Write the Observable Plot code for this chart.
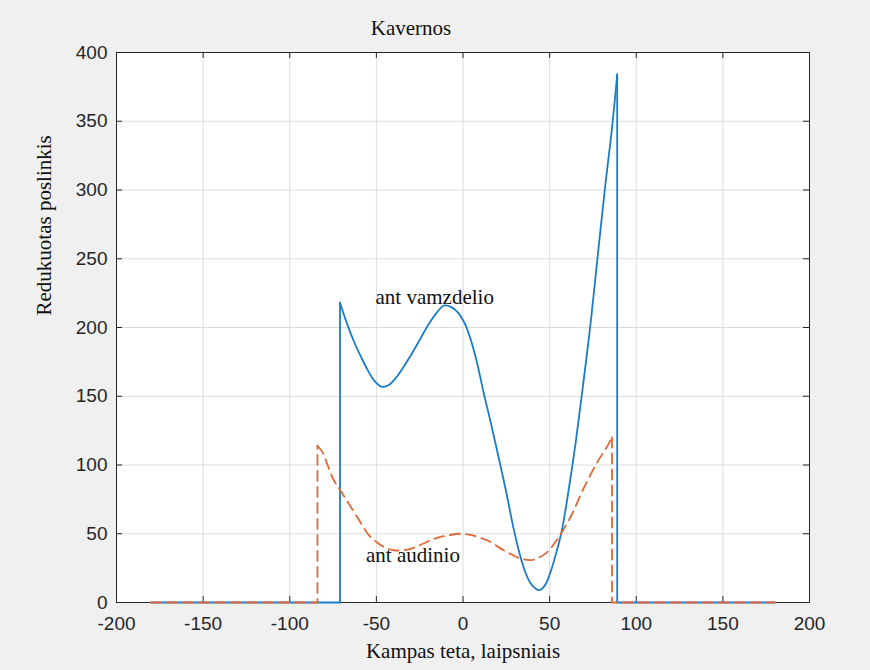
<!DOCTYPE html>
<html>
<head>
<meta charset="utf-8">
<script src="https://cdn.jsdelivr.net/npm/d3@7"></script>
<script src="https://cdn.jsdelivr.net/npm/@observablehq/plot@0.6"></script>
<style>
  html, body { margin: 0; padding: 0; background: #f0f0f0; }
  #chart { width: 870px; height: 670px; }
</style>
</head>
<body>
<div id="chart"></div>
<script>
// Angle range over which both displacements are computed (zero outside the contact zone)
const angleLimits = [-180, 180];

// Reduced displacement on the tube (solid line)
const tubeTheta = [-71, -67, -63, -59, -55, -51, -47, -43, -39, -35, -30, -25, -20, -15, -11, -7, -3, 1, 4, 8, 12, 16, 21, 25, 29, 33, 36, 39, 42, 44, 46, 48, 51, 54, 57, 61, 65, 69, 74, 78, 82, 86, 89];
const tubeValue = [218, 203, 190, 179, 169, 161, 157, 158, 163, 170, 180, 191, 202, 211, 216, 215, 211, 203, 193, 175, 152, 131, 103, 80, 55, 34, 22, 14, 10, 9, 10.5, 14, 24, 37, 52, 82, 116, 155, 207, 255, 302, 345, 384];

// Reduced displacement on the tissue (dashed line)
const tissueTheta = [-84, -81, -75, -70, -65, -60, -55, -50, -45, -40, -34, -28, -21, -15, -8, -1, 5, 10, 16, 22, 28, 33, 40, 47, 51, 55, 62, 70, 78, 83, 86];
const tissueValue = [114, 109, 90, 80, 70, 60, 50, 44, 40, 38, 38, 40, 44, 47, 49, 50, 49, 47, 44, 39, 35, 32, 31, 35, 40, 47, 62, 84, 103, 113, 120];

// Axis ticks
const xTicks = [-200, -150, -100, -50, 0, 50, 100, 150, 200];
const yTicks = [0, 50, 100, 150, 200, 250, 300, 350, 400];

// Texts
const titleText = "Kavernos";
const xLabel = "Kampas teta, laipsniais";
const yLabel = "Redukuotas poslinkis";
const tubeLabel = {text: "ant vamzdelio", theta: -50.5, value: 222};
const tissueLabel = {text: "ant audinio", theta: -56, value: 34};

const tubeColor = "#1a7cc6";
const tissueColor = "#df6a38";

// Split a series into the zero baseline + jump on each side and the smooth middle part
function pieces(theta, value) {
  const n = theta.length;
  const curve = theta.map((t, i) => ({theta: t, value: value[i]}));
  const left = [
    {theta: angleLimits[0], value: 0},
    {theta: theta[0], value: 0},
    {theta: theta[0], value: value[0]}
  ];
  const right = [
    {theta: theta[n - 1], value: value[n - 1]},
    {theta: theta[n - 1], value: 0},
    {theta: angleLimits[1], value: 0}
  ];
  return {curve, left, right};
}

const tube = pieces(tubeTheta, tubeValue);
const tissue = pieces(tissueTheta, tissueValue);

const W = 870, H = 670;
const mL = 116, mR = 61, mT = 52, mB = 68;
const plotW = W - mL - mR, plotH = H - mT - mB;
const tickLen = 6;
const serif = "Liberation Serif, Times New Roman, serif";

function seriesMarks(s, color, dash) {
  const common = {x: "theta", y: "value", stroke: color, strokeWidth: 1.8, strokeDasharray: dash};
  return [
    Plot.line(s.left, {...common, curve: "linear"}),
    Plot.line(s.curve, {...common, curve: "catmull-rom"}),
    Plot.line(s.right, {...common, curve: "linear"})
  ];
}

const chart = Plot.plot({
  width: W,
  height: H,
  marginLeft: mL,
  marginRight: mR,
  marginTop: mT,
  marginBottom: mB,
  style: {background: "#f0f0f0", fontFamily: "Liberation Sans, Arial, sans-serif", fontSize: "19px", color: "#262626"},
  x: {domain: [-200, 200], ticks: xTicks},
  y: {domain: [0, 400], ticks: yTicks},
  marks: [
    Plot.frame({fill: "white", stroke: null}),
    Plot.gridX(xTicks, {stroke: "#dcdcdc", strokeOpacity: 1}),
    Plot.gridY(yTicks, {stroke: "#dcdcdc", strokeOpacity: 1}),
    Plot.frame({stroke: "#262626", strokeWidth: 1}),
    // inward ticks on all four sides
    Plot.tickX(xTicks, {x: d => d, insetTop: plotH - tickLen, stroke: "#262626"}),
    Plot.tickX(xTicks, {x: d => d, insetBottom: plotH - tickLen, stroke: "#262626"}),
    Plot.tickY(yTicks, {y: d => d, insetRight: plotW - tickLen, stroke: "#262626"}),
    Plot.tickY(yTicks, {y: d => d, insetLeft: plotW - tickLen, stroke: "#262626"}),
    Plot.axisX(xTicks, {tickSize: 0, tickPadding: 14, tickFormat: d => String(d), label: null, fill: "#262626"}),
    Plot.axisY(yTicks, {tickSize: 0, tickPadding: 9, tickFormat: d => String(d), label: null, fill: "#262626"}),
    ...seriesMarks(tube, tubeColor, null),
    ...seriesMarks(tissue, tissueColor, "10,6"),
    Plot.text([tubeLabel], {x: "theta", y: "value", text: "text", textAnchor: "start", fontFamily: serif, fontSize: 21, fill: "#111"}),
    Plot.text([tissueLabel], {x: "theta", y: "value", text: "text", textAnchor: "start", fontFamily: serif, fontSize: 21, fill: "#111"}),
    Plot.text([titleText], {text: d => d, frameAnchor: "top", lineAnchor: "middle", dx: -52, dy: -24, fontFamily: serif, fontSize: 21, fill: "#111"}),
    Plot.text([xLabel], {text: d => d, frameAnchor: "bottom", lineAnchor: "middle", dy: 49, fontFamily: serif, fontSize: 21, fill: "#111"}),
    Plot.text([yLabel], {text: d => d, frameAnchor: "left", lineAnchor: "middle", dx: -72, dy: -12, rotate: -90, fontFamily: serif, fontSize: 21, fill: "#111"})
  ]
});

document.getElementById("chart").appendChild(chart);
</script>
</body>
</html>
